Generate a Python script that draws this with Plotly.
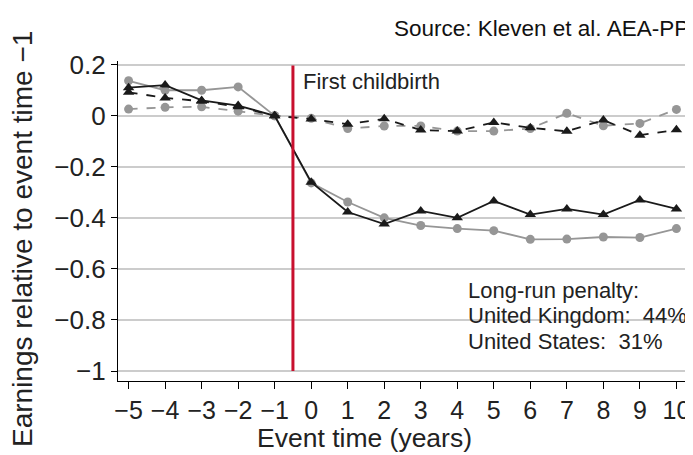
import plotly.graph_objects as go

# 이벤트 시점 (첫 출산 기준 연도)
event_time = [-5, -4, -3, -2, -1, 0, 1, 2, 3, 4, 5, 6, 7, 8, 9, 10]

# 영국 여성 (회색 실선, 원)
uk_women = [0.137, 0.10, 0.10, 0.113, 0.0, -0.263, -0.338, -0.40, -0.43, -0.442,
            -0.45, -0.484, -0.483, -0.475, -0.477, -0.442]
# 영국 남성 (회색 점선, 원)
uk_men = [0.026, 0.033, 0.035, 0.018, 0.0, -0.01, -0.05, -0.04, -0.04, -0.06,
          -0.06, -0.05, 0.01, -0.039, -0.03, 0.025]
# 미국 여성 (검정 실선, 삼각형)
us_women = [0.11, 0.12, 0.06, 0.04, 0.0, -0.26, -0.377, -0.424, -0.373, -0.40,
            -0.334, -0.387, -0.365, -0.387, -0.33, -0.365]
# 미국 남성 (검정 점선, 삼각형)
us_men = [0.092, 0.07, 0.057, 0.035, 0.0, -0.013, -0.033, -0.012, -0.056, -0.06,
          -0.026, -0.047, -0.061, -0.017, -0.076, -0.055]

y_ticks = [0.2, 0, -0.2, -0.4, -0.6, -0.8, -1]
y_labels = ["0.2", "0", "\u22120.2", "\u22120.4", "\u22120.6", "\u22120.8", "\u22121"]
x_labels = [str(v).replace("-", "\u2212") for v in event_time]

penalty_lines = ["Long-run penalty:", "United Kingdom:  44%", "United States:  31%"]

GRAY = "#969696"
BLACK = "#1a1a1a"
RED = "#c8102e"
TXT = "#222222"
FONT = "Liberation Sans, Arial, sans-serif"

# 페이지 body 여백(8px)을 감안한 크기
OFF = 8
W, H = 693 - OFF, 455 - OFF
L, R, T, B = 118 - OFF, 6, 61 - OFF, 74
PW, PH = W - L - R, H - T - B


def px_x(p):
    # 화면 픽셀 → paper 좌표
    return (p - OFF - L) / PW


def px_y(p):
    return (H - B - (p - OFF)) / PH


fig = go.Figure()

series = [
    (uk_women, GRAY, "solid", "circle", 9),
    (uk_men, GRAY, "dash", "circle", 9),
    (us_women, BLACK, "solid", "triangle-up", 10),
    (us_men, BLACK, "dash", "triangle-up", 10),
]
for ys, col, dash, sym, size in series:
    fig.add_trace(go.Scatter(
        x=event_time, y=ys, mode="lines+markers",
        line=dict(color=col, width=1.8, dash=dash),
        marker=dict(color=col, symbol=sym, size=size),
        showlegend=False, cliponaxis=False,
    ))

# 첫 출산 기준선
fig.add_shape(type="line", x0=-0.5, x1=-0.5, y0=0.197, y1=-1.0,
              line=dict(color=RED, width=3), layer="above")

# 범례 영역 흰 배경
fig.add_shape(type="rect", xref="paper", x0=px_x(460), x1=1.02, y0=-0.64, y1=-1.03,
              fillcolor="white", line=dict(width=0), layer="between")

fig.add_annotation(x=-0.5, y=0.134, xref="x", yref="y", xanchor="left",
                   xshift=8, text="First childbirth", showarrow=False,
                   font=dict(size=22, color=TXT))

for i, line in enumerate(penalty_lines):
    fig.add_annotation(x=px_x(466), y=px_y(290 + 25.5 * i), xref="paper", yref="paper",
                       xanchor="left", yanchor="middle", showarrow=False,
                       text=line, font=dict(size=22, color=TXT))

fig.add_annotation(x=px_x(392), y=px_y(28), xref="paper", yref="paper",
                   xanchor="left", yanchor="middle", showarrow=False,
                   text="Source: Kleven et al. AEA-PP", font=dict(size=22.5, color="#111"))

# 축 제목
fig.add_annotation(x=px_x(364), y=px_y(438), xref="paper", yref="paper",
                   xanchor="center", yanchor="middle", showarrow=False,
                   text="Event time (years)", font=dict(size=26.5, color=TXT))
fig.add_annotation(x=px_x(22), y=px_y(239), xref="paper", yref="paper",
                   xanchor="center", yanchor="middle", showarrow=False, textangle=-90,
                   text="Earnings relative to event time \u22121", font=dict(size=28, color=TXT))

fig.update_layout(
    width=W, height=H,
    plot_bgcolor="white", paper_bgcolor="white",
    margin=dict(l=L, r=R, t=T, b=B),
    font=dict(family=FONT, color=TXT),
)

fig.update_xaxes(
    range=[-5.29, 10.29], tickvals=event_time, ticktext=x_labels, tickangle=0,
    automargin=False,
    showgrid=False, zeroline=False, showline=True, linecolor="black", linewidth=1.3,
    ticks="outside", ticklen=7, tickwidth=1.3, tickcolor="black",
    tickfont=dict(size=25, color=TXT),
)
fig.update_yaxes(
    range=[-1.039, 0.2145], tickvals=y_ticks, ticktext=y_labels,
    automargin=False,
    showgrid=True, gridcolor="#cccccc", gridwidth=1.5, zeroline=False,
    showline=True, linecolor="black", linewidth=1.3,
    ticks="outside", ticklen=6, tickwidth=1.3, tickcolor="black",
    tickfont=dict(size=26, color=TXT),
)

fig.write_html("out.html")
